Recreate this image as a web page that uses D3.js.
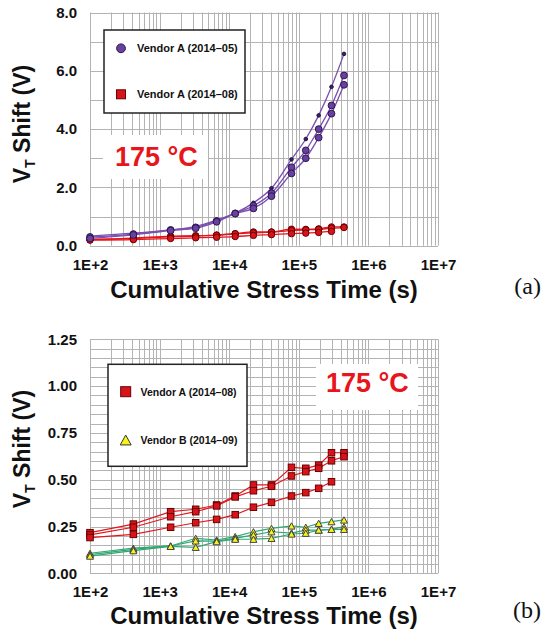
<!DOCTYPE html>
<html>
<head>
<meta charset="utf-8">
<script src="https://cdn.jsdelivr.net/npm/d3@7"></script>
<style>
  body { margin: 0; background: #fff; }
  svg text { font-family: "Liberation Sans", Arial, sans-serif; font-weight: bold; }
</style>
</head>
<body>
<svg id="chart" width="544" height="632"></svg>
<script>
// cumulative stress times (s), shared by every curve
var times = [100, 420, 1440, 3300, 6600, 12200, 22300, 40500, 78500, 126000, 193000, 295000, 446000];

// Vendor A (2014-05), three devices, VT shift (V)
var vendorA05 = [
  [0.33, 0.43, 0.54, 0.66, 0.88, 1.12, 1.47, 1.97, 2.96, 3.66, 4.47, 5.45, 6.58],
  [0.30, 0.40, 0.54, 0.63, 0.85, 1.11, 1.37, 1.80, 2.69, 3.27, 4.00, 4.81, 5.84],
  [0.25, 0.37, 0.52, 0.60, 0.82, 1.10, 1.28, 1.70, 2.48, 3.00, 3.71, 4.53, 5.52]
];

// Vendor A (2014-08)
var vendorA08 = [
  [0.217, 0.263, 0.329, 0.342, 0.365, 0.413, 0.472, 0.472, 0.566, 0.561, 0.578, 0.644, 0.644],
  [0.205, 0.246, 0.302, 0.329, 0.360, 0.408, 0.441, 0.465, 0.520, 0.543, 0.561, 0.601, 0.623],
  [0.191, 0.208, 0.246, 0.270, 0.288, 0.313, 0.353, 0.379, 0.413, 0.431, 0.454, 0.489]
];

// Vendor B (2014-09)
var vendorB09 = [
  [0.107, 0.134, 0.146, 0.187, 0.178, 0.196, 0.222, 0.240, 0.253, 0.246, 0.267, 0.276, 0.285],
  [0.100, 0.128, 0.146, 0.173, 0.172, 0.187, 0.205, 0.222, 0.215, 0.231, 0.231, 0.235, 0.249],
  [0.092, 0.121, 0.144, 0.139, 0.169, 0.182, 0.182, 0.187, 0.210, 0.214, 0.231, 0.235, 0.235]
];

var xTicks = [1e2, 1e3, 1e4, 1e5, 1e6, 1e7];
var xTickLabels = ["1E+2", "1E+3", "1E+4", "1E+5", "1E+6", "1E+7"];
var yTicksA = [0, 2, 4, 6, 8];
var yTicksB = [0, 0.25, 0.5, 0.75, 1.0, 1.25];

var svg = d3.select("#chart");

var purple = "#7a4fb0", purpleFill = "#6b3fa0", purpleEdge = "#2a1850";
var red = "#e3161c", redFill = "#d8141b", redEdge = "#6a0000";
var green = "#2fa872", yellow = "#f6f31c";
var label = "#e8151b";

// one panel: grid, axes, titles
function drawPanel(p) {
    var g = svg.append("g");
    var x = d3.scaleLog().domain([1e2, 1e7]).range([p.left, p.right]);
    var y = d3.scaleLinear().domain([0, p.ymax]).range([p.bottom, p.top]);

    // vertical log grid
    var vGrid = [];
    for (var k = 2; k < 7; k++)
        for (var m = 1; m < 10; m++) vGrid.push(m * Math.pow(10, k));
    vGrid.push(1e7);
    g.selectAll(".vg").data(vGrid).enter().append("line")
        .attr("x1", function(d) { return Math.round(x(d)) + 0.5; })
        .attr("x2", function(d) { return Math.round(x(d)) + 0.5; })
        .attr("y1", p.top).attr("y2", p.bottom)
        .attr("stroke", "#b3b3b3").attr("stroke-width", 1);

    // horizontal grid
    var nH = Math.round(p.ymax / p.gridStep);
    g.selectAll(".hg").data(d3.range(nH + 1)).enter().append("line")
        .attr("x1", p.left).attr("x2", p.right)
        .attr("y1", function(i) { return Math.round(y(i * p.gridStep)) + 0.5; })
        .attr("y2", function(i) { return Math.round(y(i * p.gridStep)) + 0.5; })
        .attr("stroke", "#b3b3b3").attr("stroke-width", 1);

    // axes (labels only, the grid is the frame)
    var xa = g.append("g")
        .attr("transform", "translate(0," + p.bottom + ")")
        .call(d3.axisBottom(x).tickValues(xTicks)
            .tickFormat(function(d, i) { return xTickLabels[i]; })
            .tickSize(0).tickPadding(p.xPad));
    var ya = g.append("g")
        .attr("transform", "translate(" + p.left + ",0)")
        .call(d3.axisLeft(y).tickValues(p.yTicks)
            .tickFormat(d3.format(p.yFormat))
            .tickSize(0).tickPadding(13));
    [xa, ya].forEach(function(a) {
        a.select(".domain").remove();
        a.selectAll("text").attr("font-size", 15).attr("fill", "#111")
            .style("font-family", "'Liberation Sans', Arial, sans-serif");
    });

    // axis titles
    g.append("text")
        .attr("x", (p.left + p.right) / 2).attr("y", p.bottom + p.titleDy)
        .attr("text-anchor", "middle").attr("font-size", 24).attr("fill", "#111")
        .text("Cumulative Stress Time (s)");
    var yt = g.append("text")
        .attr("transform", "translate(30," + p.yTitleC + ") rotate(-90)")
        .attr("text-anchor", "middle").attr("font-size", 23).attr("fill", "#111");
    yt.append("tspan").text("V");
    yt.append("tspan").attr("font-size", 14).attr("dy", 5).text("T");
    yt.append("tspan").attr("dy", -5).text(" Shift (V)");

    // panel letter
    svg.append("text")
        .attr("x", 541).attr("y", p.letterY)
        .attr("text-anchor", "end")
        .attr("font-size", 24).attr("fill", "#111")
        .style("font-family", "'Liberation Serif', 'Times New Roman', serif")
        .style("font-weight", "normal")
        .text(p.letter);

    return { g: g, x: x, y: y };
}

function drawCurves(P, sets, color, curve, width) {
    var line = d3.line()
        .x(function(d, i) { return P.x(times[i]); })
        .y(function(d) { return P.y(d); })
        .curve(curve);
    P.g.selectAll(null).data(sets).enter().append("path")
        .attr("d", line)
        .attr("fill", "none").attr("stroke", color).attr("stroke-width", width);
}

function markers(P, series, draw) {
    series.forEach(function(s, si) {
        s.forEach(function(v, i) {
            draw(P.g, P.x(times[i]), P.y(v), si);
        });
    });
}

function circle(g, cx, cy, r, fill, edge) {
    g.append("circle").attr("cx", cx).attr("cy", cy).attr("r", r)
        .attr("fill", fill).attr("stroke", edge).attr("stroke-width", 1);
}
function square(g, cx, cy, s, fill, edge) {
    g.append("rect").attr("x", cx - s / 2).attr("y", cy - s / 2)
        .attr("width", s).attr("height", s)
        .attr("fill", fill).attr("stroke", edge).attr("stroke-width", 1);
}
function triangle(g, cx, cy, s, fill, edge) {
    var h = s * 0.9;
    g.append("path")
        .attr("d", "M" + cx + "," + (cy - h / 2) + "L" + (cx + s / 2) + "," + (cy + h / 2) +
            "L" + (cx - s / 2) + "," + (cy + h / 2) + "Z")
        .attr("fill", fill).attr("stroke", edge).attr("stroke-width", 1);
}

function tempLabel(g, x, y, bx, by, bw, bh) {
    g.append("rect").attr("x", bx).attr("y", by).attr("width", bw).attr("height", bh)
        .attr("fill", "#fff");
    g.append("text").attr("x", x).attr("y", y)
        .attr("font-size", 27).attr("fill", label).text("175 °C");
}

function legendBox(g, x, y, w, h) {
    g.append("rect").attr("x", x).attr("y", y).attr("width", w).attr("height", h)
        .attr("fill", "#fff").attr("stroke", "#222").attr("stroke-width", 1.5);
}
function legendText(g, x, y, t, size) {
    g.append("text").attr("x", x).attr("y", y).attr("font-size", size)
        .attr("fill", "#111").text(t);
}

// ---- panel (a)
var A = drawPanel({
    left: 90, right: 438, top: 12.5, bottom: 245.7, ymax: 8, gridStep: 1,
    yTicks: yTicksA, yFormat: ".1f", xPad: 14, titleDy: 52, yTitleC: 124,
    letter: "(a)", letterY: 294
});

tempLabel(A.g, 115, 166, 103, 135, 105, 44);

drawCurves(A, vendorA08, red, d3.curveMonotoneX, 1.3);
markers(A, vendorA08, function(g, cx, cy) { circle(g, cx, cy, 3.2, redFill, redEdge); });

drawCurves(A, vendorA05, purple, d3.curveMonotoneX, 1.3);
markers(A, vendorA05, function(g, cx, cy, si) {
    if (si === 0) circle(g, cx, cy, 1.8, "#3a2066", "#22123d");
    else circle(g, cx, cy, 3.4, purpleFill, purpleEdge);
});

legendBox(A.g, 104, 30, 141, 83);
circle(A.g, 121, 48.3, 4.4, purpleFill, purpleEdge);
legendText(A.g, 137, 52.3, "Vendor A (2014–05)", 11);
square(A.g, 121, 94.3, 9, redFill, redEdge);
legendText(A.g, 137, 98.3, "Vendor A (2014–08)", 11);

// ---- panel (b)
var B = drawPanel({
    left: 90, right: 438, top: 339.3, bottom: 573.3, ymax: 1.25, gridStep: 0.05,
    yTicks: yTicksB, yFormat: ".2f", xPad: 13.5, titleDy: 51, yTitleC: 449,
    letter: "(b)", letterY: 618
});

tempLabel(B.g, 326, 392, 316, 364, 102, 46);

drawCurves(B, vendorA08, red, d3.curveLinear, 1.2);
drawCurves(B, vendorB09, green, d3.curveLinear, 1.2);
markers(B, vendorA08, function(g, cx, cy) { square(g, cx, cy, 6.5, redFill, redEdge); });
markers(B, vendorB09, function(g, cx, cy) { triangle(g, cx, cy, 7, yellow, "#444"); });

legendBox(B.g, 108, 364.3, 139, 102);
square(B.g, 125.7, 391.7, 10, redFill, redEdge);
legendText(B.g, 140.5, 395.5, "Vendor A (2014–08)", 10.5);
triangle(B.g, 125.7, 440, 11, yellow, "#333");
legendText(B.g, 140.5, 444, "Vendor B (2014–09)", 10.5);
</script>
</body>
</html>
